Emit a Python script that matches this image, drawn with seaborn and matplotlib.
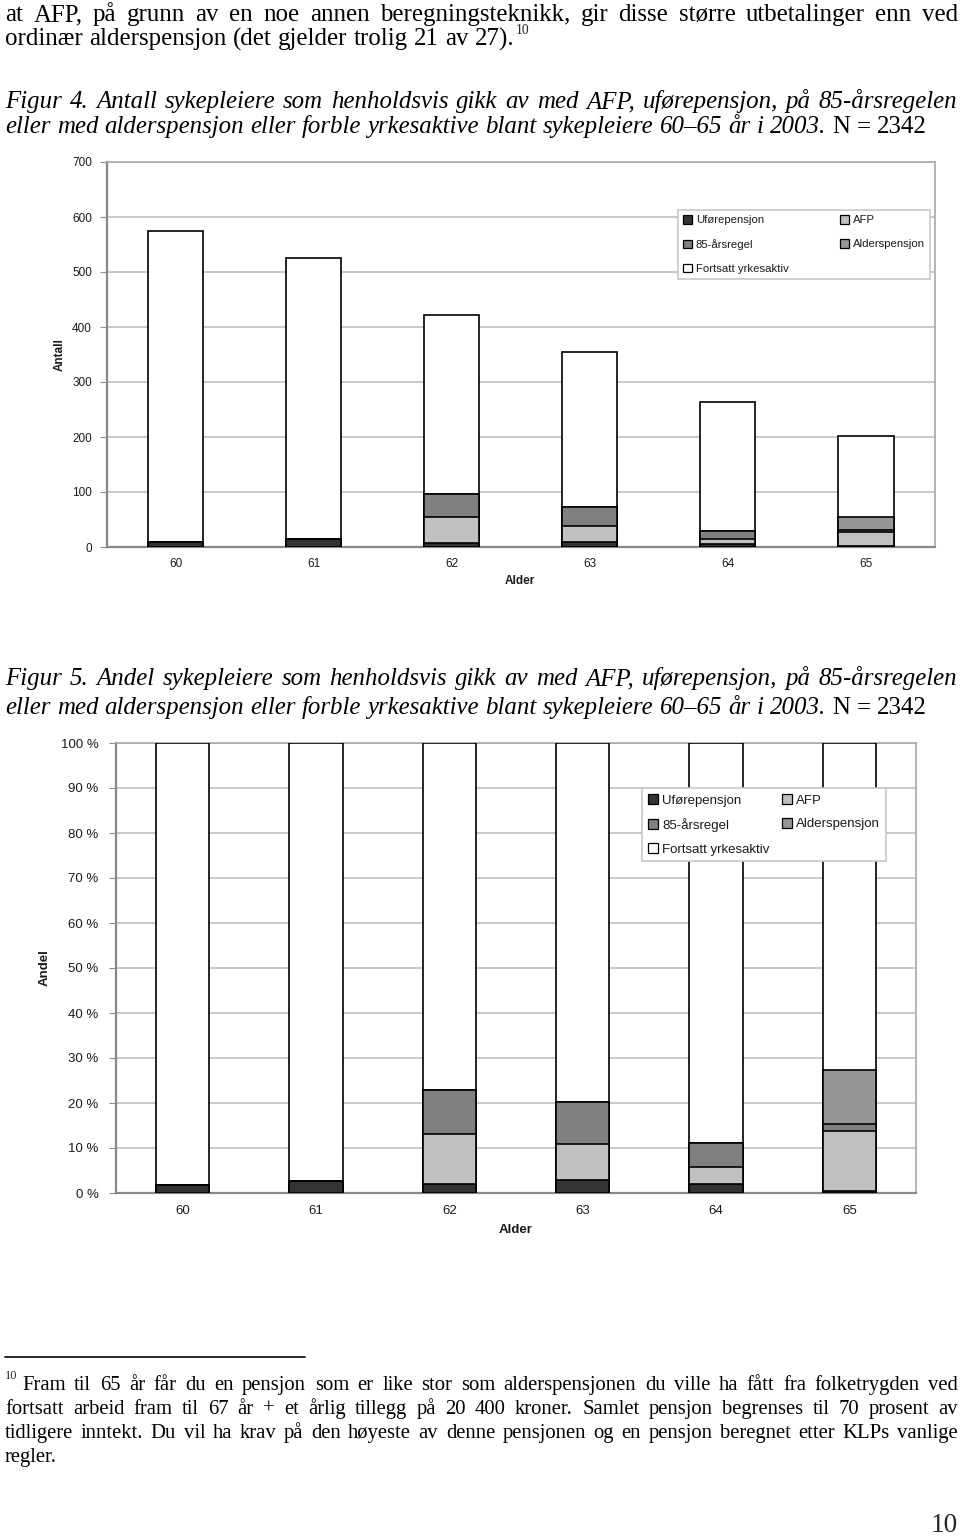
import numpy as np
import matplotlib
matplotlib.use("Agg")
import matplotlib.pyplot as plt
from matplotlib.patches import Patch
import seaborn as sns

# ---------------- data ----------------
ages = ["60", "61", "62", "63", "64", "65"]
ufore = [10, 14, 8, 10, 5, 1]
afp = [0, 0, 47, 29, 10, 27]
aars85 = [0, 0, 41, 33, 14, 3]
alders = [0, 0, 0, 0, 0, 24]
fortsatt = [565, 512, 325, 283, 234, 147]
series_labels = ["Uførepensjon", "AFP", "85-årsregel", "Alderspensjon", "Fortsatt yrkesaktiv"]
series_colors = ["#333333", "#c0c0c0", "#808080", "#969696", "#ffffff"]

count_ticks = [0, 100, 200, 300, 400, 500, 600, 700]
pct_ticks = [0, 10, 20, 30, 40, 50, 60, 70, 80, 90, 100]

para1 = ["at AFP, på grunn av en noe annen beregningsteknikk, gir disse større utbetalinger enn ved",
         "ordinær alderspensjon (det gjelder trolig 21 av 27)."]
cap4 = ["Figur 4. Antall sykepleiere som henholdsvis gikk av med AFP, uførepensjon, på 85-årsregelen",
        "eller med alderspensjon eller forble yrkesaktive blant sykepleiere 60–65 år i 2003. N = 2342"]
cap5 = ["Figur 5. Andel sykepleiere som henholdsvis gikk av med AFP, uførepensjon, på 85-årsregelen",
        "eller med alderspensjon eller forble yrkesaktive blant sykepleiere 60–65 år i 2003. N = 2342"]
foot = ["Fram til 65 år får du en pensjon som er like stor som alderspensjonen du ville ha fått fra  folketrygden ved",
        "fortsatt arbeid fram til 67 år + et årlig tillegg på 20 400 kroner. Samlet pensjon begrenses til 70 prosent av",
        "tidligere inntekt. Du vil ha krav på den høyeste av denne pensjonen og en pensjon beregnet etter KLPs vanlige",
        "regler."]

# ---------------- setup ----------------
sns.set_style("white")
SANS = "Liberation Sans"
SERIF = "Liberation Serif"
plt.rcParams["font.family"] = [SANS, "DejaVu Sans"]
TXT = "#1a1a1a"

W, H = 960, 1537
fig = plt.figure(figsize=(W / 100, H / 100), dpi=100)
renderer = fig.canvas.get_renderer()


def fy(y):
    return 1 - y / H


def width_of(s, **kw):
    t = fig.text(0, 0, s, **kw)
    w = t.get_window_extent(renderer).width
    t.remove()
    return w


def place_line(words, y, x0, x1, size, justify):
    # y = visual centre of the line (pixels from top); words are placed on a common baseline
    base = y + 0.33 * size * 100 / 72
    objs = []
    for w, st in words:
        objs.append(fig.text(0, fy(base), w, fontsize=size, family=SERIF, style=st,
                             va="baseline", ha="left", color="black"))
    widths = [o.get_window_extent(renderer).width for o in objs]
    space = width_of("a a", fontsize=size, family=SERIF) - width_of("aa", fontsize=size, family=SERIF)
    if justify and len(objs) > 1:
        gap = (x1 - x0 - sum(widths)) / (len(objs) - 1)
    else:
        gap = space
    x = x0
    for o, w in zip(objs, widths):
        o.set_x(x / W)
        x += w + gap
    return x - gap


def words_of(line, italic=False):
    out = []
    upright = False
    for t in line.split():
        if t == "N":
            upright = True
        st = "italic" if (italic and not upright) else "normal"
        out.append((t, st))
    return out


# font sizes calibrated to measured line widths in the reference
body_fs = 14 * 510 / width_of(para1[1], fontsize=14, family=SERIF)
cap_fs = 14 * 925 / width_of(cap4[1], fontsize=14, family=SERIF, style="italic")
foot_fs = 14 * 880 / width_of(foot[0], fontsize=14, family=SERIF)

# paragraph
place_line(words_of(para1[0]), 13, 5, 958, body_fs, True)
xe = place_line(words_of(para1[1]), 37, 5, 958, body_fs, False)
fig.text((xe + 2) / W, fy(30), "10", fontsize=body_fs * 0.55, family=SERIF, va="center", ha="left")

# captions
place_line(words_of(cap4[0], True), 100, 5, 957, cap_fs, True)
place_line(words_of(cap4[1], True), 125, 5, 957, cap_fs, False)
place_line(words_of(cap5[0], True), 677, 5, 957, cap_fs, True)
place_line(words_of(cap5[1], True), 706, 5, 957, cap_fs, False)

# footnote
fig.add_artist(plt.Line2D([5 / W, 305 / W], [fy(1357), fy(1357)], color="black", lw=1.2))
fig.text(5 / W, fy(1376), "10", fontsize=foot_fs * 0.6, family=SERIF, va="center", ha="left")
place_line(words_of(foot[0]), 1383, 22, 958, foot_fs, True)
place_line(words_of(foot[1]), 1407, 5, 958, foot_fs, True)
place_line(words_of(foot[2]), 1431, 5, 958, foot_fs, True)
place_line(words_of(foot[3]), 1455, 5, 958, foot_fs, False)
fig.text(958 / W, fy(1525), "10", fontsize=body_fs * 1.1, family=SERIF, va="center", ha="right")

# ---------------- charts ----------------
stack = np.array([ufore, afp, aars85, alders, fortsatt], dtype=float)
cum = np.cumsum(stack, axis=0)
totals = cum[-1]
pct = cum / totals * 100


def draw_chart(ax, values, ylim, yticks, ylabels, tick_fs, ypad, xpad):
    for i in reversed(range(len(series_labels))):
        sns.barplot(x=ages, y=values[i], color=series_colors[i], width=0.4, saturation=1,
                    edgecolor="black", linewidth=1.2, errorbar=None, ax=ax, zorder=3)
    ax.set_xlim(-0.5, 5.5)
    ax.set_ylim(*ylim)
    ax.set_yticks(yticks)
    ax.set_yticklabels(ylabels, fontsize=tick_fs, color=TXT)
    ax.set_xticks(range(len(ages)))
    ax.set_xticklabels(ages, fontsize=tick_fs, color=TXT)
    ax.set_xticks(np.arange(-0.5, 6.0, 1.0), minor=True)
    ax.tick_params(axis="x", which="major", length=0, pad=xpad)
    ax.tick_params(axis="x", which="minor", length=4, color="#808080", direction="out")
    ax.tick_params(axis="y", length=5, color="#909090", direction="out", pad=ypad, left=True)
    ax.yaxis.grid(True, color="#c0c0c0", lw=1.2, zorder=0)
    ax.set_axisbelow(True)
    for s in ["top", "right"]:
        ax.spines[s].set_visible(True)
        ax.spines[s].set_color("#a8a8a8")
        ax.spines[s].set_linewidth(1.2)
    for s in ["left", "bottom"]:
        ax.spines[s].set_color("#888888")
        ax.spines[s].set_linewidth(1.6)
    ax.set_xlabel("")
    ax.set_ylabel("")


def add_legend(ax, x0, y0, x1, y1, fs, lspace):
    handles = [Patch(facecolor=c, edgecolor="black", linewidth=0.9) for c in series_colors]
    order = [0, 2, 4, 1, 3]
    leg = ax.legend([handles[i] for i in order], [series_labels[i] for i in order], ncol=2,
                    loc="upper left", bbox_to_anchor=(x0 / W, fy(y1), (x1 - x0) / W, (y1 - y0) / H),
                    bbox_transform=fig.transFigure, mode="expand", fontsize=fs,
                    handlelength=0.8, handleheight=0.8, handletextpad=0.3,
                    labelspacing=lspace, borderpad=0.45, borderaxespad=0,
                    frameon=True, fancybox=False, framealpha=1, labelcolor=TXT)
    leg.get_frame().set_edgecolor("#c8c8c8")
    leg.get_frame().set_linewidth(1.2)
    leg.set_zorder(10)


# Figure 4: counts
ax1 = fig.add_axes([106.5 / W, fy(547), (935 - 106.5) / W, (547 - 162) / H])
draw_chart(ax1, cum, (0, 700), count_ticks, [str(v) for v in count_ticks], 8.5, 5.5, 8)
add_legend(ax1, 678, 210, 930, 279, 8.2, 1.2)
fig.text(60 / W, fy(355), "Antall", rotation=90, fontsize=8.5, fontweight="bold",
         color=TXT, ha="center", va="center")
fig.text(520 / W, fy(581), "Alder", fontsize=8.5, fontweight="bold", color=TXT,
         ha="center", va="center")

# Figure 5: shares
ax2 = fig.add_axes([116 / W, fy(1193), (916 - 116) / W, (1193 - 743) / H])
draw_chart(ax2, pct, (0, 100), pct_ticks, [f"{v} %" for v in pct_ticks], 9.5, 7.5, 8.5)
add_legend(ax2, 642, 788, 886, 862, 9.5, 0.85)
fig.text(45 / W, fy(968), "Andel", rotation=90, fontsize=9.5, fontweight="bold",
         color=TXT, ha="center", va="center")
fig.text(516 / W, fy(1230), "Alder", fontsize=9.5, fontweight="bold", color=TXT,
         ha="center", va="center")

fig.savefig("out.png", dpi=100, facecolor="white")
